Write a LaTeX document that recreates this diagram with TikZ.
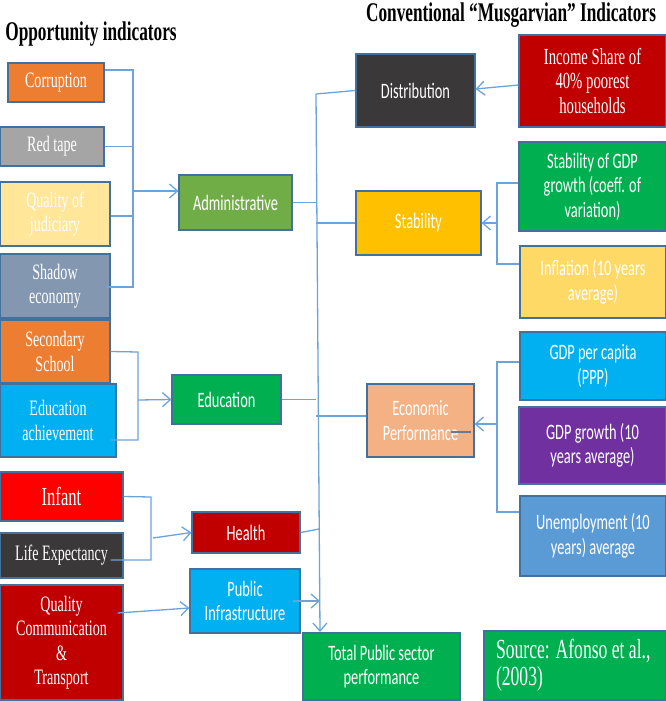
\documentclass[tikz,border=0pt]{standalone}
\usepackage{fontspec}
\setmainfont{Liberation Serif}[FakeStretch=0.64]
\newfontfamily\calib{Carlito}[FakeStretch=0.655]
\usetikzlibrary{arrows.meta}

\definecolor{cOrange}{HTML}{ED7D31}
\definecolor{cGray}{HTML}{A5A5A5}
\definecolor{cPale}{HTML}{FFE699}
\definecolor{cSlate}{HTML}{8497B0}
\definecolor{cCyan}{HTML}{00B0F0}
\definecolor{cRed}{HTML}{FF0000}
\definecolor{cDark}{HTML}{3A3838}
\definecolor{cWine}{HTML}{C00000}
\definecolor{cLeaf}{HTML}{70AD47}
\definecolor{cGreen}{HTML}{00B050}
\definecolor{cGold}{HTML}{FFC000}
\definecolor{cSand}{HTML}{FFD966}
\definecolor{cPeach}{HTML}{F4B183}
\definecolor{cPurple}{HTML}{7030A0}
\definecolor{cBlue}{HTML}{5B9BD5}
\definecolor{cEdge}{HTML}{41719C}
\definecolor{cLink}{HTML}{6CA3DA}

\begin{document}
\begin{tikzpicture}[x=1pt,y=-1pt,
  box/.style={draw=cEdge,line width=1.1pt,text=white,inner sep=0pt,align=center},
  rom/.style={font=\fontsize{22}{24.5}\selectfont},
  cal/.style={font=\calib\fontsize{22}{24.5}\selectfont},
  link/.style={cLink,line width=1.3pt},
  arr/.style={link,-{Straight Barb[length=8pt,width=14pt]}}]
\useasboundingbox (0,0) rectangle (666,701);

% titles
\node (ttlL) at (91,34) {\fontsize{27}{28}\selectfont\bfseries Opportunity indicators};
\node (ttlR) at (511,15) {\fontsize{27}{28}\selectfont\bfseries Conventional “Musgarvian” Indicators};

% opportunity indicators
\node[box,rom,fill=cOrange,minimum width=96,minimum height=39] (corr) at (56,82.5) {Corruption};
\node[box,rom,fill=cGray,minimum width=104,minimum height=39] (red) at (52,146.5) {Red tape};
\node[box,rom,fill=cPale,minimum width=110,minimum height=64] (judic) at (55,214) {Quality of\\judiciary};
\node[box,rom,fill=cSlate,minimum width=110,minimum height=64] (shadow) at (55,286) {Shadow\\economy};
\node[box,rom,fill=cOrange,minimum width=110,minimum height=63] (second) at (55,351.5) {Secondary\\School};
\node[box,rom,fill=cCyan,minimum width=116,minimum height=73] (eduach) at (58,420.5) {Education\\achievement};
\node[box,font=\fontsize{26}{28}\selectfont,fill=cRed,minimum width=123,minimum height=49] (infant) at (61.5,496.5) {Infant};
\node[box,rom,fill=cDark,minimum width=123,minimum height=45] (life) at (61.5,555.5) {Life Expectancy};
\node[box,rom,fill=cWine,minimum width=123,minimum height=115] (qct) at (61.5,642.5) {Quality\\Communication\\\&\\Transport};

% sub-indicators
\node[box,cal,fill=cLeaf,minimum width=113,minimum height=55] (adm) at (235.5,202.5) {Administrative};
\node[box,cal,fill=cGreen,minimum width=109,minimum height=49] (educ) at (226.5,399.5) {Education};
\node[box,cal,fill=cWine,minimum width=108,minimum height=41] (health) at (246,532.5) {Health};
\node[box,cal,fill=cCyan,minimum width=110,minimum height=64] (pubinf) at (245,601) {Public\\Infrastructure};
\node[box,cal,fill=cGreen,minimum width=157,minimum height=67] (total) at (381.5,666.5) {Total Public sector\\performance};
\node[box,fill=cGreen,minimum width=182,minimum height=69,align=left,font=\fontsize{27.5}{27}\selectfont] (source) at (575,665.5)
  {\makebox[158pt][l]{Source: Afonso et al.,}\\\makebox[158pt][l]{(2003)}};

% musgravian side
\node[box,cal,fill=cDark,minimum width=119,minimum height=73] (distr) at (415.5,90.5) {Distribution};
\node[box,font=\fontsize{23}{24.5}\selectfont,fill=cWine,minimum width=147,minimum height=92] (income) at (592.5,81) {Income Share of\\40\% poorest\\households};
\node[box,cal,fill=cGold,minimum width=125,minimum height=64] (stab) at (418.5,223) {Stability};
\node[box,cal,fill=cGreen,minimum width=147,minimum height=89] (stabgdp) at (592.5,186.5) {Stability of GDP\\growth (coeff. of\\variation)};
\node[box,cal,fill=cSand,minimum width=146,minimum height=72] (infl) at (593,282) {Inflation (10 years\\average)};
\node[box,cal,fill=cPeach,minimum width=107,minimum height=73] (econ) at (420.5,420.5) {Economic\\Performance};
\node[box,cal,fill=cCyan,minimum width=146,minimum height=68] (gdppc) at (593,366) {GDP per capita\\(PPP)};
\node[box,cal,fill=cPurple,minimum width=147,minimum height=77] (gdpg) at (592.5,445.5) {GDP growth (10\\years average)};
\node[box,cal,fill=cBlue,minimum width=146,minimum height=80] (unemp) at (593,536) {Unemployment (10\\years) average};

% bracket points
\coordinate (ab1) at (133,70);
\coordinate (ab2) at (133,287);
\coordinate (ab) at (133,191);
\coordinate (eb1) at (138,352);
\coordinate (eb2) at (138,440);
\coordinate (eb) at (138,400);
\coordinate (hb1) at (151,497);
\coordinate (hb2) at (151,560);
\coordinate (hb) at (153,538);
\coordinate (bt) at (316,94);
\coordinate (bb) at (320,632);
\coordinate (hj) at (319,529);
\coordinate (sb1) at (497,183);
\coordinate (sb2) at (497,264);
\coordinate (sb) at (497,223);
\coordinate (pb1) at (497,362);
\coordinate (pb2) at (497,512);
\coordinate (pb) at (497,424);

% administrative
\draw[link] ([yshift=12.5pt]corr.east) -- (ab1) -- (ab2) -- ([xshift=-5pt,yshift=-1pt]shadow.east);
\draw[link] (red.east) -- (red.east -| ab);
\draw[link] ([yshift=-2pt]judic.east) -- ([yshift=-2pt]judic.east -| ab);
\draw[arr] (ab) -- (ab -| adm.west);

% education
\draw[link] (second.east) -- (eb1) -- (eb2) -- ([xshift=-6pt,yshift=-19.5pt]eduach.east);
\draw[arr] (eb) -- (educ.west);

% health
\draw[link] (infant.east) -- (hb1) -- (hb2) -- ([xshift=-13pt,yshift=-4.5pt]life.east);
\draw[arr] (hb) -- (health.west);

% public infrastructure
\draw[arr] ([xshift=-6pt,yshift=29.5pt]qct.east) -- ([yshift=-7pt]pubinf.west);

% main bus to total
\draw[arr] (bt) -- (bb);
\draw[link] (bt) -- (distr.west);
\draw[link] (adm.east) -- (adm.east -| bt);
\draw[link] (stab.west -| bt) -- (stab.west);
\draw[link] (educ.east) -- (educ.east -| bt);
\draw[link] ([yshift=4.5pt]econ.west -| bt) -- ([yshift=4.5pt]econ.west);
\draw[link] (health.east) -- (hj);
\draw[arr] ([xshift=-8pt]pubinf.east) -- ([xshift=4pt]pubinf.east -| bt);

% right brackets
\draw[arr] ([yshift=-4pt]income.west) -- ([yshift=1.5pt]distr.east);
\draw[link] ([yshift=3.5pt]stabgdp.west) -- (sb1) -- (sb2) -- ([yshift=18pt]infl.west);
\draw[arr] (sb) -- (stab.east);
\draw[link] ([yshift=4pt]gdppc.west) -- (pb1) -- (pb2) -- ([yshift=24pt]unemp.west);
\draw[arr] (pb) -- ([yshift=-3.5pt]econ.east);

\draw[cSlate!80!black,line width=1.5pt] ([xshift=-4pt,yshift=-11.5pt]econ.east) -- ++(-20,0);

\end{tikzpicture}
\end{document}
